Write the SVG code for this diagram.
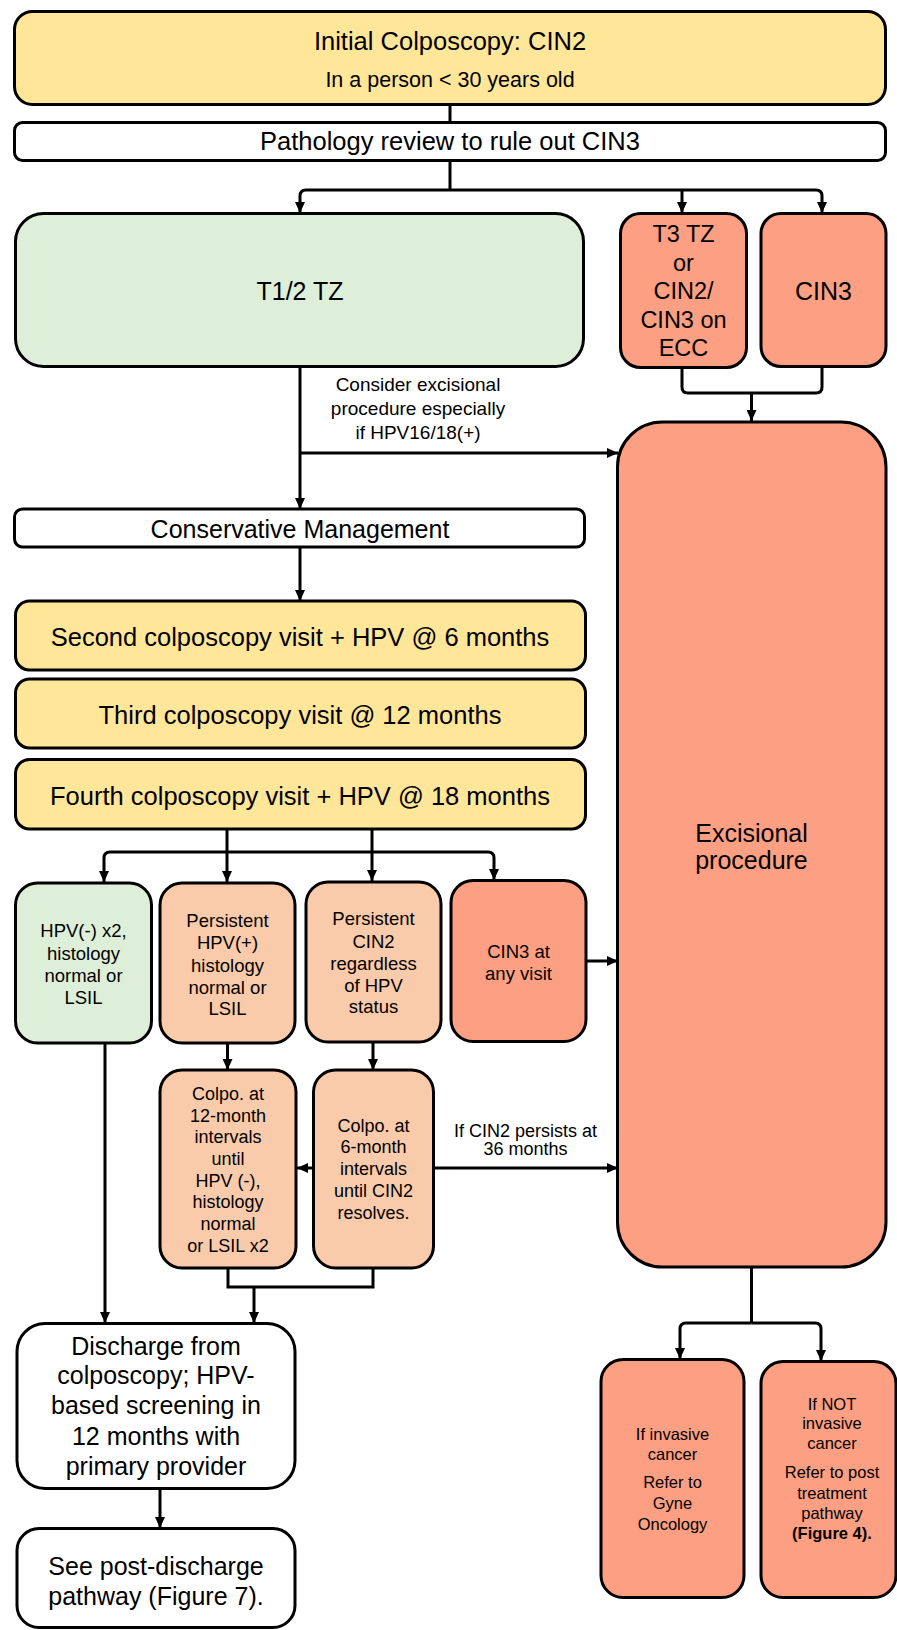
<svg xmlns="http://www.w3.org/2000/svg" width="897" height="1630" viewBox="0 0 897 1630">
<defs>
<marker id="ah" markerUnits="userSpaceOnUse" markerWidth="11" markerHeight="10" refX="11" refY="5" orient="auto"><path d="M0,0 L11,5 L0,10 z" fill="#000"/></marker>
<style>
.b{stroke:#000;stroke-width:3}
.y{fill:#FFE699}.g{fill:#DEEFD9}.w{fill:#fff}.p{fill:#F9CBAA}.s{fill:#FD9F82}
text{font-family:"Liberation Sans",Arial,sans-serif;fill:#000;text-anchor:middle}
.c path{fill:none;stroke:#000;stroke-width:3}
.c path.a{marker-end:url(#ah)}
</style>
</defs>
<rect width="897" height="1630" fill="#fff"/>
<g class="c" id="connectors">
<path d="M450,104 V122"/>
<path d="M450,161 V190"/>
<path class="a" d="M450,190 H306 Q300,190 300,196 V213"/>
<path class="a" d="M450,190 H816 Q822,190 822,196 V213"/>
<path class="a" d="M682,190 V213"/>
<path d="M682,368 V387 Q682,393 688,393 H816 Q822,393 822,387 V368"/>
<path class="a" d="M751.5,393 V421"/>
<path class="a" d="M300,367 V509"/>
<path class="a" d="M300,453 H618"/>
<path class="a" d="M300,547 V601"/>
<path class="a" d="M227,829 V882"/>
<path class="a" d="M372,829 V881"/>
<path d="M227,852 H372"/>
<path class="a" d="M227,852 H110 Q104,852 104,858 V882"/>
<path class="a" d="M372,852 H488 Q494,852 494,858 V880"/>
<path class="a" d="M586,961 H618"/>
<path class="a" d="M227.5,1043 V1070"/>
<path class="a" d="M373,1042 V1070"/>
<path class="a" d="M313,1168 H297"/>
<path class="a" d="M433,1168 H618"/>
<path d="M228,1268 V1287 H373 V1268"/>
<path class="a" d="M254,1287 V1323"/>
<path class="a" d="M105,1043 V1323"/>
<path class="a" d="M160,1488 V1528"/>
<path d="M751.5,1267 V1323"/>
<path class="a" d="M751.5,1323 H686 Q680,1323 680,1329 V1359"/>
<path class="a" d="M751.5,1323 H815 Q821,1323 821,1329 V1361"/>
</g>
<g id="n-initial"><rect class="b y" x="14.5" y="11.5" width="871" height="93" rx="18"/>
<text x="450" y="50" font-size="25.5">Initial Colposcopy: CIN2</text>
<text x="450" y="87" font-size="21.5">In a person &lt; 30 years old</text></g>
<g id="n-path"><rect class="b w" x="14.5" y="122.5" width="871" height="38" rx="8"/>
<text x="450" y="150" font-size="25.5">Pathology review to rule out CIN3</text></g>
<g id="n-t12"><rect class="b g" x="15.5" y="213.5" width="568" height="153" rx="28"/>
<text x="300" y="300" font-size="25">T1/2 TZ</text></g>
<g id="n-t3"><rect class="b s" x="620.5" y="213.5" width="126" height="154" rx="20"/>
<text font-size="23.5"><tspan x="683.5" y="242">T3 TZ</tspan><tspan x="683.5" y="270.5">or</tspan><tspan x="683.5" y="299">CIN2/</tspan><tspan x="683.5" y="327.5">CIN3 on</tspan><tspan x="683.5" y="356">ECC</tspan></text></g>
<g id="n-cin3"><rect class="b s" x="761" y="213.5" width="125" height="153" rx="20"/>
<text x="823.5" y="300" font-size="25">CIN3</text></g>
<g id="n-consider-label"><text font-size="19"><tspan x="418" y="391">Consider excisional</tspan><tspan x="418" y="415">procedure especially</tspan><tspan x="418" y="439">if HPV16/18(+)</tspan></text></g>
<g id="n-excisional"><rect class="b s" x="617.5" y="422" width="268.5" height="845" rx="45"/>
<text font-size="25"><tspan x="751.5" y="842">Excisional</tspan><tspan x="751.5" y="869">procedure</tspan></text></g>
<g id="n-conservative"><rect class="b w" x="14.5" y="509" width="570" height="38" rx="8"/>
<text x="300" y="538" font-size="25">Conservative Management</text></g>
<g id="n-second"><rect class="b y" x="15.5" y="601" width="570" height="69" rx="14"/>
<text x="300" y="646" font-size="25.5">Second colposcopy visit + HPV @ 6 months</text></g>
<g id="n-third"><rect class="b y" x="15.5" y="679" width="570" height="69" rx="14"/>
<text x="300" y="723.5" font-size="25.5">Third colposcopy visit @ 12 months</text></g>
<g id="n-fourth"><rect class="b y" x="15.5" y="759.5" width="570" height="69.5" rx="14"/>
<text x="300" y="805" font-size="25.5">Fourth colposcopy visit + HPV @ 18 months</text></g>
<g id="n-hpvneg"><rect class="b g" x="15.5" y="883" width="136" height="160" rx="22"/>
<text font-size="18.5"><tspan x="83.5" y="937">HPV(-) x2,</tspan><tspan x="83.5" y="959.5">histology</tspan><tspan x="83.5" y="982">normal or</tspan><tspan x="83.5" y="1004">LSIL</tspan></text></g>
<g id="n-pershpv"><rect class="b p" x="160" y="883" width="135" height="160" rx="22"/>
<text font-size="18.5"><tspan x="227.5" y="927">Persistent</tspan><tspan x="227.5" y="949">HPV(+)</tspan><tspan x="227.5" y="971.5">histology</tspan><tspan x="227.5" y="993.5">normal or</tspan><tspan x="227.5" y="1015">LSIL</tspan></text></g>
<g id="n-perscin2"><rect class="b p" x="306" y="882" width="135" height="160" rx="22"/>
<text font-size="18.5"><tspan x="373.5" y="925">Persistent</tspan><tspan x="373.5" y="948">CIN2</tspan><tspan x="373.5" y="969.5">regardless</tspan><tspan x="373.5" y="991.5">of HPV</tspan><tspan x="373.5" y="1013">status</tspan></text></g>
<g id="n-cin3any"><rect class="b s" x="451" y="880.5" width="135" height="161" rx="22"/>
<text font-size="18.5"><tspan x="518.5" y="958">CIN3 at</tspan><tspan x="518.5" y="979.5">any visit</tspan></text></g>
<g id="n-colpo12"><rect class="b p" x="160" y="1070" width="136" height="198" rx="22"/>
<text font-size="18"><tspan x="228" y="1100">Colpo. at</tspan><tspan x="228" y="1121.7">12-month</tspan><tspan x="228" y="1143.3">intervals</tspan><tspan x="228" y="1165">until</tspan><tspan x="228" y="1186.7">HPV (-),</tspan><tspan x="228" y="1208.3">histology</tspan><tspan x="228" y="1230">normal</tspan><tspan x="228" y="1251.7">or LSIL x2</tspan></text></g>
<g id="n-colpo6"><rect class="b p" x="313.5" y="1070" width="120" height="198" rx="22"/>
<text font-size="18"><tspan x="373.5" y="1131.7">Colpo. at</tspan><tspan x="373.5" y="1153.3">6-month</tspan><tspan x="373.5" y="1175">intervals</tspan><tspan x="373.5" y="1197.3">until CIN2</tspan><tspan x="373.5" y="1219">resolves.</tspan></text></g>
<g id="n-persists-label"><text font-size="18"><tspan x="525.5" y="1137">If CIN2 persists at</tspan><tspan x="525.5" y="1155">36 months</tspan></text></g>
<g id="n-discharge"><rect class="b w" x="17" y="1323.5" width="278" height="165" rx="28"/>
<text font-size="25"><tspan x="156" y="1355">Discharge from</tspan><tspan x="156" y="1384">colposcopy; HPV-</tspan><tspan x="156" y="1414">based screening in</tspan><tspan x="156" y="1445">12 months with</tspan><tspan x="156" y="1475">primary provider</tspan></text></g>
<g id="n-see"><rect class="b w" x="17" y="1528.5" width="278" height="99" rx="22"/>
<text font-size="25"><tspan x="156" y="1575">See post-discharge</tspan><tspan x="156" y="1605">pathway (Figure 7).</tspan></text></g>
<g id="n-invasive"><rect class="b s" x="601" y="1359.5" width="143" height="238" rx="22"/>
<text font-size="16.5"><tspan x="672.5" y="1440">If invasive</tspan><tspan x="672.5" y="1460">cancer</tspan><tspan x="672.5" y="1488">Refer to</tspan><tspan x="672.5" y="1509">Gyne</tspan><tspan x="672.5" y="1530">Oncology</tspan></text></g>
<g id="n-notinvasive"><rect class="b s" x="761" y="1361.5" width="135" height="236" rx="22"/>
<text font-size="16.5"><tspan x="832" y="1409.5">If NOT</tspan><tspan x="832" y="1429">invasive</tspan><tspan x="832" y="1448.5">cancer</tspan><tspan x="832" y="1478">Refer to post</tspan><tspan x="832" y="1498.5">treatment</tspan><tspan x="832" y="1518.5">pathway</tspan><tspan x="832" y="1539" font-weight="bold">(Figure 4).</tspan></text></g>
</svg>
